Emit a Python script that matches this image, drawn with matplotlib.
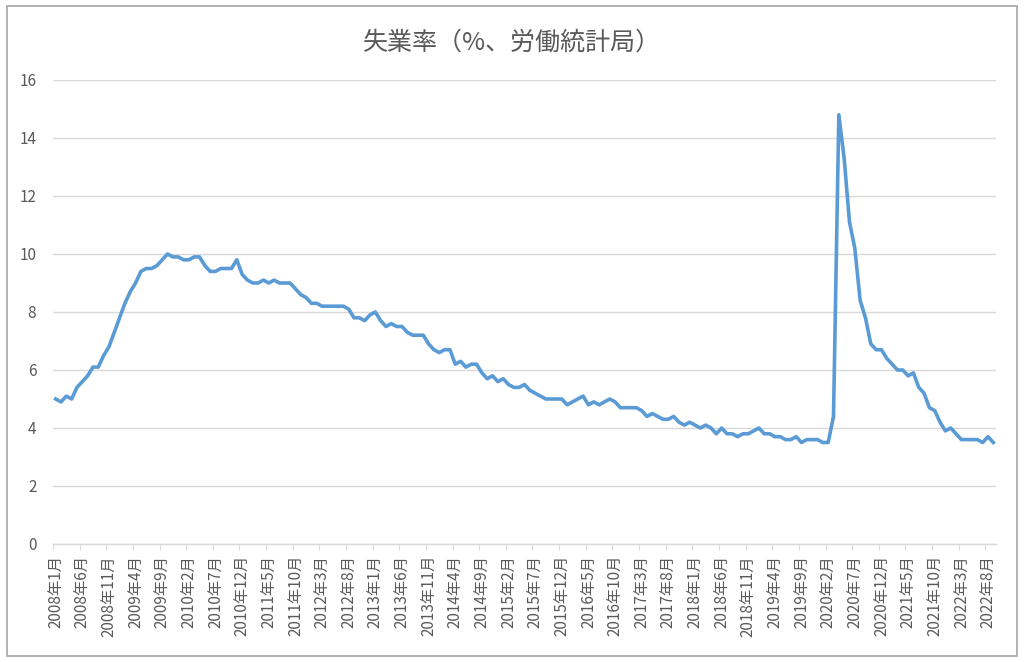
import matplotlib
matplotlib.use("Agg")
import matplotlib.pyplot as plt
from matplotlib.patches import FancyBboxPatch
import numpy as np

plt.rcParams['font.family'] = ['Noto Sans CJK JP', 'DejaVu Sans']

# Monthly unemployment rate, 2008-01 .. 2022-09
rate_2008 = [5.0, 4.9, 5.1, 5.0, 5.4, 5.6, 5.8, 6.1, 6.1, 6.5, 6.8, 7.3]
rate_2009 = [7.8, 8.3, 8.7, 9.0, 9.4, 9.5, 9.5, 9.6, 9.8, 10.0, 9.9, 9.9]
rate_2010 = [9.8, 9.8, 9.9, 9.9, 9.6, 9.4, 9.4, 9.5, 9.5, 9.5, 9.8, 9.3]
rate_2011 = [9.1, 9.0, 9.0, 9.1, 9.0, 9.1, 9.0, 9.0, 9.0, 8.8, 8.6, 8.5]
rate_2012 = [8.3, 8.3, 8.2, 8.2, 8.2, 8.2, 8.2, 8.1, 7.8, 7.8, 7.7, 7.9]
rate_2013 = [8.0, 7.7, 7.5, 7.6, 7.5, 7.5, 7.3, 7.2, 7.2, 7.2, 6.9, 6.7]
rate_2014 = [6.6, 6.7, 6.7, 6.2, 6.3, 6.1, 6.2, 6.2, 5.9, 5.7, 5.8, 5.6]
rate_2015 = [5.7, 5.5, 5.4, 5.4, 5.5, 5.3, 5.2, 5.1, 5.0, 5.0, 5.0, 5.0]
rate_2016 = [4.8, 4.9, 5.0, 5.1, 4.8, 4.9, 4.8, 4.9, 5.0, 4.9, 4.7, 4.7]
rate_2017 = [4.7, 4.7, 4.6, 4.4, 4.5, 4.4, 4.3, 4.3, 4.4, 4.2, 4.1, 4.2]
rate_2018 = [4.1, 4.0, 4.1, 4.0, 3.8, 4.0, 3.8, 3.8, 3.7, 3.8, 3.8, 3.9]
rate_2019 = [4.0, 3.8, 3.8, 3.7, 3.7, 3.6, 3.6, 3.7, 3.5, 3.6, 3.6, 3.6]
rate_2020 = [3.5, 3.5, 4.4, 14.8, 13.3, 11.1, 10.2, 8.4, 7.8, 6.9, 6.7, 6.7]
rate_2021 = [6.4, 6.2, 6.0, 6.0, 5.8, 5.9, 5.4, 5.2, 4.7, 4.6, 4.2, 3.9]
rate_2022 = [4.0, 3.8, 3.6, 3.6, 3.6, 3.6, 3.5, 3.7, 3.5]

rates = (rate_2008 + rate_2009 + rate_2010 + rate_2011 + rate_2012 + rate_2013 +
         rate_2014 + rate_2015 + rate_2016 + rate_2017 + rate_2018 + rate_2019 +
         rate_2020 + rate_2021 + rate_2022)

start_year = 2008
months = [f"{start_year + i // 12}年{i % 12 + 1}月" for i in range(len(rates))]
label_step = 5
title = "失業率（%、労働統計局）"
y_ticks = [0, 2, 4, 6, 8, 10, 12, 14, 16]

fig = plt.figure(figsize=(10.24, 6.62), dpi=100)
# outer chart border
border = FancyBboxPatch((7/1024, 6/662), 1010/1024, 650/662,
                        boxstyle="square,pad=0", transform=fig.transFigure,
                        fill=False, edgecolor='#A6A6A6', linewidth=1.2)
fig.patches.append(border)

ax = fig.add_axes([53/1024, 1 - 544/662, 943/1024, 464/662])
x = np.arange(len(rates))
ax.plot(x, rates, color='#5B9BD5', linewidth=2.6, solid_joinstyle='round', zorder=3)

ax.set_xlim(-0.5, len(rates) - 0.5)
ax.set_ylim(0, 16)
ax.set_yticks(y_ticks)
ax.yaxis.grid(True, color='#D9D9D9', linewidth=1)
ax.set_axisbelow(True)
for s in ['top', 'right', 'left']:
    ax.spines[s].set_visible(False)
ax.spines['bottom'].set_color('#D9D9D9')
ax.spines['bottom'].set_linewidth(1)
ax.tick_params(axis='y', length=0, labelsize=11, labelcolor='#595959', pad=12)

# tick marks between categories, labels on categories
major = np.arange(-0.5, len(rates) - 0.5, label_step)
ax.set_xticks(major)
ax.set_xticklabels([])
ax.tick_params(axis='x', which='major', length=4, color='#D9D9D9', direction='out')
lab_pos = np.arange(0, len(rates), label_step)
ax.set_xticks(lab_pos, minor=True)
ax.set_xticklabels([months[i] for i in lab_pos], minor=True, rotation=90,
                   fontsize=11, color='#595959')
ax.tick_params(axis='x', which='minor', length=0, pad=8)

fig.text(0.5, 1 - 43/662, title, ha='center', va='center', fontsize=18, color='#595959')

fig.savefig('out.png', dpi=100)
